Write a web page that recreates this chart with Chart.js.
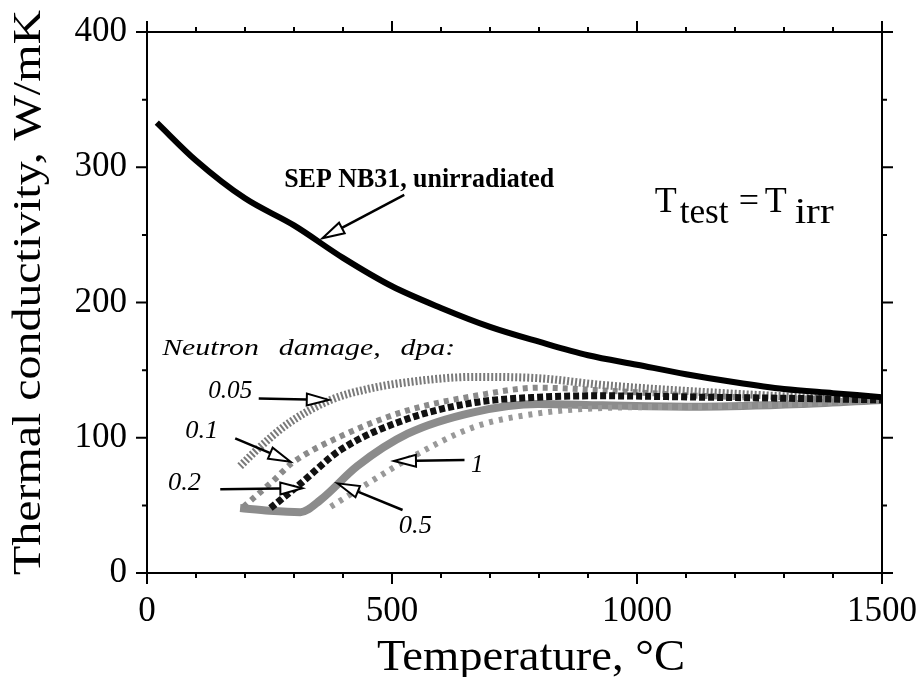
<!DOCTYPE html>
<html>
<head>
<meta charset="utf-8">
<title>Thermal conductivity vs temperature</title>
<script src="https://cdn.jsdelivr.net/npm/chart.js@4"></script>
<style>
    html, body { margin: 0; padding: 0; background: #fff; }
    #wrap { width: 920px; height: 677px; }
</style>
</head>
<body>
<div id="wrap"><canvas id="chart" width="920" height="677"></canvas></div>
<script>
// Data (temperature in °C, conductivity in W/mK)
const tempUnirr = [20, 100, 200, 300, 400, 500, 600, 700, 800, 900, 1000, 1100, 1200, 1300, 1400, 1500];
const kUnirr = [333, 305, 277, 257, 233, 212, 196, 182, 171, 161, 154, 147, 141, 136, 133, 130];

const temp005 = [190, 230, 290, 375, 450, 530, 670, 800, 930, 1130, 1340, 1500];
const k005 = [79, 93, 111, 128, 136, 141, 145, 144, 139, 134, 130, 128];

const temp01 = [197, 260, 295, 395, 530, 670, 800, 930, 1130, 1340, 1500];
const k01 = [49, 69, 81, 101, 120, 131, 137, 135, 131, 129, 128];

const temp02 = [252, 313, 395, 532, 668, 798, 930, 1130, 1340, 1500];
const k02 = [48, 66, 91, 114, 126, 130, 131, 130, 129, 128];

const temp05 = [190, 250, 313, 354, 429, 532, 668, 798, 930, 1130, 1340, 1500];
const k05 = [48, 46, 45, 54, 79, 103, 119, 125, 124, 123, 125, 128];

const temp1 = [375, 463, 532, 668, 798, 930, 1130, 1340, 1500];
const k1 = [49, 69, 84, 108, 118, 122, 123, 125, 128];

const xTicks = [0, 500, 1000, 1500];
const yTicks = [0, 100, 200, 300, 400];

const FONT = '"Liberation Serif", "Times New Roman", serif';

// Arrows and labels (data coordinates)
const arrows = [
    { from: [525, 279.5], to: [358, 247.5] },
    { from: [228, 129], to: [371, 128] },
    { from: [180, 99.6], to: [293, 82.3] },
    { from: [149.5, 62], to: [317, 62.6] },
    { from: [648, 83.5], to: [504, 82.8] },
    { from: [521.6, 46.6], to: [388.5, 66.3] }
];

const labels = [
    { text: 'SEP NB31, unirradiated', at: [280, 285.4], font: 'bold 28px ' + FONT, width: 270 },
    { text: 'Neutron damage, dpa:', at: [31, 161], font: 'italic 24px ' + FONT, width: 293, wordSpacing: '10px' },
    { text: '0.05', at: [125, 129.4], font: 'italic 25px ' + FONT, width: 44 },
    { text: '0.1', at: [78, 99.8], font: 'italic 25px ' + FONT, width: 33 },
    { text: '0.2', at: [43, 61.4], font: 'italic 25px ' + FONT, width: 33 },
    { text: '1', at: [661, 74.7], font: 'italic 25px ' + FONT },
    { text: '0.5', at: [514, 29.6], font: 'italic 25px ' + FONT, width: 33 }
];

const toPoints = (xs, ys) => xs.map((x, i) => ({ x: x, y: ys[i] }));

function drawText(ctx, text, x, y, font, width, wordSpacing) {
    ctx.save();
    ctx.font = font;
    if (wordSpacing) ctx.wordSpacing = wordSpacing;
    ctx.textBaseline = 'alphabetic';
    ctx.textAlign = 'left';
    const w = ctx.measureText(text).width;
    ctx.translate(x, y);
    if (width) ctx.scale(width / w, 1);
    ctx.fillText(text, 0, 0);
    ctx.restore();
}

function drawArrow(ctx, x1, y1, x2, y2) {
    const ang = Math.atan2(y2 - y1, x2 - x1);
    const headLen = 22, headHalf = 6;
    const bx = x2 - headLen * Math.cos(ang);
    const by = y2 - headLen * Math.sin(ang);
    ctx.save();
    ctx.strokeStyle = '#000';
    ctx.lineWidth = 2.5;
    ctx.beginPath();
    ctx.moveTo(x1, y1);
    ctx.lineTo(bx, by);
    ctx.stroke();
    ctx.beginPath();
    ctx.moveTo(x2, y2);
    ctx.lineTo(bx + headHalf * Math.sin(ang), by - headHalf * Math.cos(ang));
    ctx.lineTo(bx - headHalf * Math.sin(ang), by + headHalf * Math.cos(ang));
    ctx.closePath();
    ctx.fillStyle = '#fff';
    ctx.fill();
    ctx.lineWidth = 2;
    ctx.stroke();
    ctx.restore();
}

// Frame with outward ticks on all four sides
const framePlugin = {
    id: 'frame',
    afterDraw(chart) {
        const ctx = chart.ctx;
        const a = chart.chartArea;
        const sx = chart.scales.x, sy = chart.scales.y;
        ctx.save();
        ctx.strokeStyle = '#000';
        ctx.lineWidth = 2;
        ctx.strokeRect(a.left, a.top, a.right - a.left, a.bottom - a.top);
        ctx.beginPath();
        for (let v = sx.min; v <= sx.max; v += 100) {
            const px = sx.getPixelForValue(v);
            const len = v % 500 === 0 ? 11 : 5;
            ctx.moveTo(px, a.bottom); ctx.lineTo(px, a.bottom + len);
            ctx.moveTo(px, a.top); ctx.lineTo(px, a.top - len);
        }
        for (let v = sy.min; v <= sy.max; v += 50) {
            const py = sy.getPixelForValue(v);
            const len = v % 100 === 0 ? 11 : 5;
            ctx.moveTo(a.left, py); ctx.lineTo(a.left - len, py);
            ctx.moveTo(a.right, py); ctx.lineTo(a.right + len, py);
        }
        ctx.stroke();
        ctx.restore();
    }
};

// Annotations: arrows, labels, axis titles
const notesPlugin = {
    id: 'notes',
    afterDatasetsDraw(chart) {
        const ctx = chart.ctx;
        const sx = chart.scales.x, sy = chart.scales.y;
        const a = chart.chartArea;
        const px = v => sx.getPixelForValue(v);
        const py = v => sy.getPixelForValue(v);

        arrows.forEach(ar => {
            drawArrow(ctx, px(ar.from[0]), py(ar.from[1]), px(ar.to[0]), py(ar.to[1]));
        });

        ctx.fillStyle = '#000';
        labels.forEach(l => {
            drawText(ctx, l.text, px(l.at[0]), py(l.at[1]), l.font, l.width, l.wordSpacing);
        });

        // T_test = T_irr
        const tx = px(1036), ty = py(267);
        const f = '36px ' + FONT;
        drawText(ctx, 'T', tx, ty, f);
        drawText(ctx, 'test', tx + 25, ty + 11, f, 49);
        drawText(ctx, '=', tx + 84, ty, f);
        drawText(ctx, 'T', tx + 110, ty, f);
        drawText(ctx, 'irr', tx + 140, ty + 11, f, 39);

        // axis titles
        drawText(ctx, 'Temperature, °C', a.left + 230, a.bottom + 97, '45px ' + FONT, 308);
        ctx.save();
        ctx.translate(a.left - 107, a.bottom + 2);
        ctx.rotate(-Math.PI / 2);
        drawText(ctx, 'Thermal conductivity, W/mK', 0, 0, '41px ' + FONT, 565);
        ctx.restore();
    }
};

// fixed axis box sizes, no extra padding for overflowing labels
function fixSize(prop, size) {
    return s => {
        s[prop] = size;
        s.paddingTop = 0;
        s.paddingBottom = 0;
        s.paddingLeft = 0;
        s.paddingRight = 0;
    };
}

const tickFont = { family: FONT, size: 35 };

new Chart(document.getElementById('chart'), {
    type: 'line',
    data: {
        datasets: [
            { label: 'unirradiated', data: toPoints(tempUnirr, kUnirr), borderColor: '#000', borderWidth: 6, order: 0 },
            { label: '0.2 dpa', data: toPoints(temp02, k02), borderColor: '#111', borderWidth: 7, borderDash: [6, 3], order: 1 },
            { label: '0.05 dpa', data: toPoints(temp005, k005), borderColor: '#7a7a7a', borderWidth: 8, borderDash: [2, 2], order: 2 },
            { label: '0.1 dpa', data: toPoints(temp01, k01), borderColor: '#8a8a8a', borderWidth: 6, borderDash: [5, 5], order: 3 },
            { label: '1 dpa', data: toPoints(temp1, k1), borderColor: '#999', borderWidth: 6, borderDash: [4, 6], order: 4 },
            { label: '0.5 dpa', data: toPoints(temp05, k05), borderColor: '#8c8c8c', borderWidth: 8, order: 5 }
        ]
    },
    options: {
        responsive: false,
        animation: false,
        devicePixelRatio: 1,
        layout: {
            autoPadding: false,
            padding: { top: 32, right: 38, left: 0, bottom: 0 }
        },
        elements: {
            point: { radius: 0, hoverRadius: 0 },
            line: { cubicInterpolationMode: 'monotone', fill: false, borderCapStyle: 'butt' }
        },
        plugins: {
            legend: { display: false },
            tooltip: { enabled: false }
        },
        scales: {
            x: {
                type: 'linear',
                min: 0,
                max: 1500,
                afterBuildTicks: s => { s.ticks = xTicks.map(v => ({ value: v })); },
                afterFit: fixSize('height', 104),
                grid: { display: false, drawTicks: false },
                border: { display: false },
                ticks: { color: '#000', font: tickFont, padding: 18, maxRotation: 0, callback: v => String(v) }
            },
            y: {
                type: 'linear',
                min: 0,
                max: 400,
                afterBuildTicks: s => { s.ticks = yTicks.map(v => ({ value: v })); },
                afterFit: fixSize('width', 147),
                grid: { display: false, drawTicks: false },
                border: { display: false },
                ticks: { color: '#000', font: tickFont, padding: 20, callback: v => String(v) }
            }
        }
    },
    plugins: [framePlugin, notesPlugin]
});
</script>
</body>
</html>
